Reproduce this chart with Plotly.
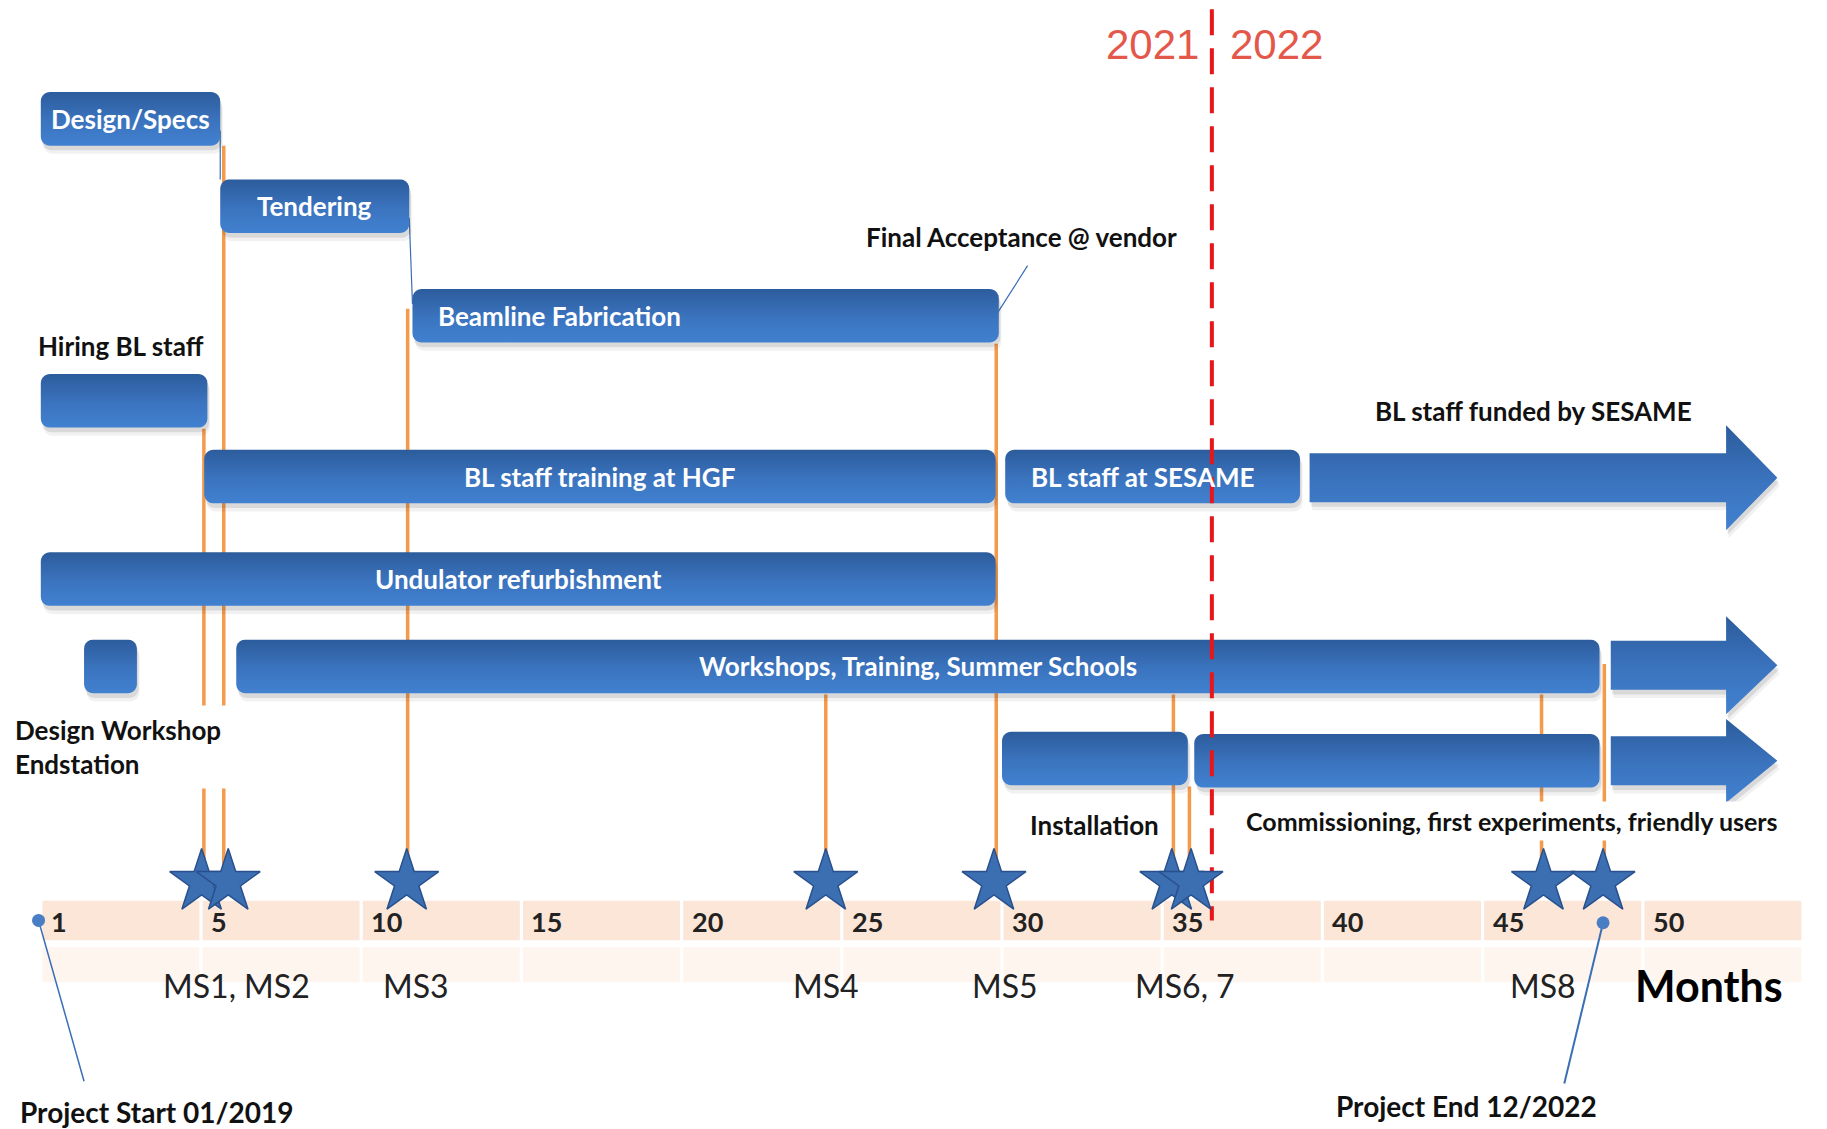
import plotly.graph_objects as go
import numpy as np

# ---------------- data ----------------
task_names = ["Design/Specs", "Tendering", "Beamline Fabrication", "", "BL staff training at HGF",
              "BL staff at SESAME", "Undulator refurbishment", "", "Workshops, Training, Summer Schools",
              "", ""]
task_start = [0.0, 5.6, 11.6, 0.0, 5.1, 30.1, 0.0, 1.35, 6.1, 30.0, 36.0]
task_end = [5.6, 11.5, 29.9, 5.2, 29.8, 39.3, 29.8, 3.0, 48.65, 35.8, 48.65]
task_row = [102, 177, 271, 344, 409, 409, 497, 572, 572, 651, 653]
task_text_align = ["center", "center", "left", "center", "center", "left", "center", "center", "center", "center", "center"]

arrow_start = [39.6, 49.0, 49.0]
arrow_head = [52.6, 52.6, 52.6]
arrow_tip = [54.2, 54.2, 54.2]
arrow_row = [410, 571, 653]
arrow_head_half = [45, 42, 36]

milestone_month = [5.02, 5.85, 11.42, 24.5, 29.75, 35.3, 35.9, 46.9, 48.76]
milestone_line_month = [5.09, 5.71, 11.45, 24.5, 29.82, 35.35, 35.85, 46.84, 48.8]
milestone_line_top = [368, 125, 265, 596, 295, 596, 675, 596, 570]

ms_labels = ["MS1, MS2", "MS3", "MS4", "MS5", "MS6, 7", "MS8"]
ms_label_month = [6.1, 11.7, 24.5, 30.1, 35.7, 46.9]

tick_months = [0, 5, 10, 15, 20, 25, 30, 35, 40, 45, 50]
tick_labels = ["1", "5", "10", "15", "20", "25", "30", "35", "40", "45", "50"]
band_end = 55

year_split = 36.55
start_month = -0.07
end_month = 48.76

# ---------------- geometry helpers ----------------
W, H = 1827, 1129
PX_PER_MONTH = 32.04
X0_PX = 40.8
YSCALE = H / 969.0
x_range = [-X0_PX / PX_PER_MONTH, (W - X0_PX) / PX_PER_MONTH]

BLUE_TOP = "#4181D0"
BLUE_BOT = "#2C5C9C"
ORANGE = "#F5994A"
FONT = "Lato"


def rrect(x0, x1, yc, half, r_px=9, n=6):
    rx = r_px / PX_PER_MONTH
    ry = r_px / YSCALE
    y0, y1 = yc - half, yc + half
    pts = []
    corners = [(x1 - rx, y0 + ry, -90, 0), (x1 - rx, y1 - ry, 0, 90),
               (x0 + rx, y1 - ry, 90, 180), (x0 + rx, y0 + ry, 180, 270)]
    for cx, cy, a0, a1 in corners:
        for a in np.linspace(np.radians(a0), np.radians(a1), n):
            pts.append((cx + rx * np.cos(a), cy + ry * np.sin(a)))
    pts.append(pts[0])
    xs, ys = zip(*pts)
    return list(xs), list(ys)


def arrow_poly(x0, xh, xt, yc, hb, hh):
    xs = [x0, xh, xh, xt, xh, xh, x0, x0]
    ys = [yc - hb, yc - hb, yc - hh, yc, yc + hh, yc + hb, yc + hb, yc - hb]
    return xs, ys


fig = go.Figure()

# tick band
for i, m in enumerate(tick_months):
    m1 = min(m + 5, band_end)
    fig.add_shape(type="rect", x0=m + 0.05, x1=m1 - 0.05, y0=773, y1=807,
                  fillcolor="#FCE6D7", line_width=0, layer="below")
    fig.add_shape(type="rect", x0=m + 0.05, x1=m1 - 0.05, y0=813, y1=843,
                  fillcolor="#FEF5EF", line_width=0, layer="below")

# orange milestone lines
for m, top in zip(milestone_line_month, milestone_line_top):
    fig.add_trace(go.Scatter(x=[m, m], y=[top, 748], mode="lines",
                             line=dict(color=ORANGE, width=3.5), hoverinfo="skip", showlegend=False))

# thin blue connector lines
fig.add_trace(go.Scatter(x=[task_end[0], task_start[1]], y=[task_row[0] + 10, task_row[1] - 23], mode="lines",
                         line=dict(color="#3A6FB5", width=1.2), hoverinfo="skip", showlegend=False))
fig.add_trace(go.Scatter(x=[task_end[1], task_start[2]], y=[task_row[1] + 10, task_row[2] - 10], mode="lines",
                         line=dict(color="#3A6FB5", width=1.2), hoverinfo="skip", showlegend=False))
# final acceptance pointer
fig.add_trace(go.Scatter(x=[task_end[2] - 0.05, 30.8], y=[task_row[2] - 2, 228], mode="lines",
                         line=dict(color="#3A6FB5", width=1.2), hoverinfo="skip", showlegend=False))

HALF = 23


def add_shadow(xs, ys):
    for dy, dx, a in [(7, 0.08, 0.07), (4, 0.05, 0.13)]:
        fig.add_trace(go.Scatter(x=[v + dx for v in xs], y=[v + dy for v in ys], fill="toself",
                                 fillcolor=f"rgba(60,60,60,{a})", line=dict(width=0), mode="lines",
                                 hoverinfo="skip", showlegend=False))


def add_grad(xs, ys):
    fig.add_trace(go.Scatter(x=xs, y=ys, fill="toself", mode="lines", line=dict(width=0, color=BLUE_BOT),
                             fillgradient=dict(type="vertical",
                                               colorscale=[[0, BLUE_TOP], [0.45, "#3B74BF"], [1, BLUE_BOT]]),
                             hoverinfo="skip", showlegend=False))


# arrows (drawn bottom first so the middle arrow sits on top)
for k in [0, 2, 1]:
    xs, ys = arrow_poly(arrow_start[k], arrow_head[k], arrow_tip[k], arrow_row[k], 21, arrow_head_half[k])
    add_shadow(xs, ys)
    add_grad(xs, ys)

# task bars
for name, s, e, r, al in zip(task_names, task_start, task_end, task_row, task_text_align):
    xs, ys = rrect(s, e, r, HALF)
    add_shadow(xs, ys)
    add_grad(xs, ys)
    if name:
        if al == "center":
            fig.add_annotation(x=(s + e) / 2, y=r, text=f"<b>{name}</b>", showarrow=False,
                               font=dict(family=FONT, size=26, color="white"), xanchor="center", yanchor="middle")
        else:
            fig.add_annotation(x=s + 0.75, y=r, text=f"<b>{name}</b>", showarrow=False,
                               font=dict(family=FONT, size=26, color="white"), xanchor="left", yanchor="middle")

# red dashed year separator
fig.add_trace(go.Scatter(x=[year_split, year_split], y=[8, 790], mode="lines",
                         line=dict(color="#E8161B", width=4, dash="26px,13px"),
                         hoverinfo="skip", showlegend=False))
fig.add_annotation(x=year_split - 0.35, y=38, text="2021", showarrow=False, xanchor="right", yanchor="middle",
                   font=dict(family="Liberation Sans", size=42, color="#E4584B"))
fig.add_annotation(x=year_split + 0.5, y=38, text="2022", showarrow=False, xanchor="left", yanchor="middle",
                   font=dict(family="Liberation Sans", size=42, color="#E4584B"))

# stars
fig.add_trace(go.Scatter(x=milestone_month, y=[757] * len(milestone_month), mode="markers",
                         marker=dict(symbol="star", size=48, color="#3C6EB2",
                                     line=dict(color="#28508C", width=1.5)),
                         hoverinfo="skip", showlegend=False))

# tick labels
for m, t in zip(tick_months, tick_labels):
    fig.add_annotation(x=m + 0.25, y=791, text=f"<b>{t}</b>", showarrow=False, xanchor="left", yanchor="middle",
                       font=dict(family=FONT, size=27, color="#222222"))

# milestone labels
for m, t in zip(ms_label_month, ms_labels):
    fig.add_annotation(x=m, y=846, text=t, showarrow=False, xanchor="center", yanchor="middle",
                       font=dict(family=FONT, size=32, color="#222222"))
fig.add_annotation(x=52.07, y=846, text="<b>Months</b>", showarrow=False, xanchor="center", yanchor="middle",
                   font=dict(family=FONT, size=43, color="black"))

# project start / end pointers
fig.add_trace(go.Scatter(x=[start_month, 1.35], y=[790, 928], mode="lines",
                         line=dict(color="#3A6FB5", width=1.5), hoverinfo="skip", showlegend=False))
fig.add_trace(go.Scatter(x=[end_month, 47.55], y=[792, 930], mode="lines",
                         line=dict(color="#3A6FB5", width=2), hoverinfo="skip", showlegend=False))
fig.add_trace(go.Scatter(x=[start_month, end_month], y=[790, 792], mode="markers",
                         marker=dict(size=13, color="#4A7EC4"), hoverinfo="skip", showlegend=False))

# black labels
black = dict(family=FONT, size=26, color="#111111")
fig.add_annotation(x=-0.15, y=297, text="<b>Hiring BL staff</b>", showarrow=False, xanchor="left",
                   yanchor="middle", font=black)
fig.add_annotation(x=30.6, y=203, text="<b>Final Acceptance @ vendor</b>", showarrow=False, xanchor="center",
                   yanchor="middle", font=black)
fig.add_annotation(x=46.6, y=353, text="<b>BL staff funded by SESAME</b>", showarrow=False, xanchor="center",
                   yanchor="middle", font=black)
fig.add_annotation(x=-1.1, y=641, text="<b>Design Workshop<br>Endstation</b>", showarrow=False, xanchor="left",
                   yanchor="middle", align="left", bgcolor="white", borderpad=8, font=black)
fig.add_annotation(x=32.9, y=708, text="<b>Installation</b>", showarrow=False, xanchor="center",
                   yanchor="middle", bgcolor="white", font=black)
fig.add_annotation(x=37.45, y=705, text="<b>Commissioning, first experiments, friendly users</b>", showarrow=False,
                   xanchor="left", yanchor="middle", bgcolor="white", borderpad=4,
                   font=dict(family=FONT, size=25, color="#111111"))
fig.add_annotation(x=-0.7, y=954, text="<b>Project Start 01/2019</b>", showarrow=False, xanchor="left",
                   yanchor="middle", font=dict(family=FONT, size=28, color="#111111"))
fig.add_annotation(x=44.5, y=949, text="<b>Project End 12/2022</b>", showarrow=False, xanchor="center",
                   yanchor="middle", font=dict(family=FONT, size=28, color="#111111"))

fig.update_layout(width=W, height=H, margin=dict(l=0, r=0, t=0, b=0),
                  plot_bgcolor="white", paper_bgcolor="white", showlegend=False,
                  xaxis=dict(range=x_range, visible=False, fixedrange=True),
                  yaxis=dict(range=[969, 0], visible=False, fixedrange=True))

fig.write_html("out.html", config={"displayModeBar": False},
               post_script="document.body.style.margin='0';document.body.style.overflow='hidden';")
